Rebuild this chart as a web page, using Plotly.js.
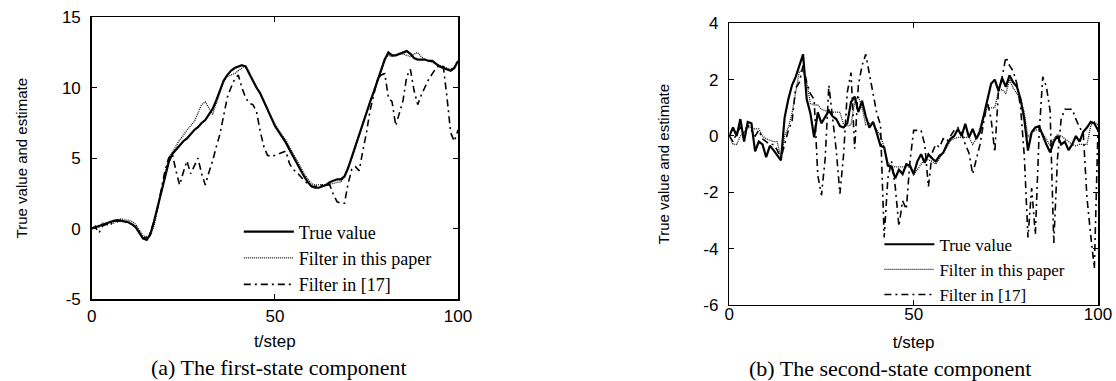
<!DOCTYPE html>
<html>
<head>
<meta charset="utf-8">
<script src="https://cdn.plot.ly/plotly-3.0.1.min.js"></script>
<style>html,body{margin:0;padding:0;background:#fff;}#chart{width:1116px;height:381px;}</style>
</head>
<body>
<div id="chart"></div>
<script>
// time steps
const steps = Array.from({length: 101}, (_, i) => i);

// (a) first-state component
const trueA = [0.0,0.1,0.2,0.3,0.35,0.45,0.55,0.6,0.55,0.5,0.45,0.3,0.1,-0.3,-0.7,-0.8,-0.4,0.5,1.6,2.7,3.8,4.7,5.3,5.6,5.9,6.2,6.4,6.7,7.0,7.2,7.5,7.7,8.1,8.5,9.1,9.8,10.5,10.9,11.2,11.4,11.5,11.6,11.5,11.0,10.4,10.0,9.6,9.0,8.4,7.8,7.3,6.9,6.5,6.1,5.6,5.1,4.6,4.1,3.7,3.3,3.0,2.9,2.9,3.0,3.1,3.3,3.4,3.5,3.5,3.7,4.3,5.1,5.9,6.7,7.5,8.2,9.0,9.7,10.5,11.2,12.0,12.5,12.3,12.3,12.4,12.5,12.6,12.4,12.1,12.0,12.0,12.0,11.9,11.9,11.7,11.5,11.4,11.3,11.2,11.4,11.9];
const filterA = [0.0,0.2,0.1,0.4,0.3,0.5,0.4,0.6,0.7,0.6,0.6,0.5,0.3,-0.1,-0.5,-0.6,-0.5,0.2,1.3,2.6,3.9,5.0,5.4,5.9,6.3,6.6,7.0,7.3,7.6,8.2,8.8,9.0,8.5,8.1,8.9,9.6,10.4,10.8,10.9,11.0,11.2,11.4,11.6,11.1,10.6,10.1,9.6,9.1,8.5,7.9,7.4,7.0,6.6,6.3,5.8,5.3,4.8,4.3,3.9,3.5,3.2,3.1,3.1,3.1,3.1,3.2,3.2,3.3,3.3,3.7,4.3,5.0,5.8,6.6,7.5,8.3,9.0,9.8,10.6,11.3,12.1,12.3,12.2,12.3,12.4,12.4,12.3,12.2,12.4,12.5,12.2,12.0,11.9,11.8,11.7,11.6,11.5,11.4,11.3,11.5,11.9];
const ref17A = [0.0,0.1,-0.3,0.2,0.3,0.2,0.6,0.5,0.6,0.5,0.4,0.3,0.1,-0.3,-0.7,-0.6,-0.3,0.5,1.5,2.8,4.1,5.0,5.3,4.1,3.1,4.0,4.8,3.9,4.5,5.0,3.9,3.1,4.0,4.8,5.8,6.7,8.0,9.3,10.0,10.6,10.9,10.0,9.3,8.9,8.8,8.3,6.9,5.8,5.2,5.1,5.2,5.3,5.4,5.5,4.6,4.2,4.0,3.7,3.4,3.2,3.0,3.0,3.0,3.1,3.1,3.1,2.4,1.9,1.8,1.8,3.2,4.2,4.4,4.1,5.5,6.8,8.4,9.5,10.6,10.9,11.0,9.3,9.0,7.3,8.2,9.1,10.8,11.3,9.8,8.8,9.5,10.1,10.6,11.0,11.4,11.6,11.5,9.3,6.8,6.2,7.0];

// (b) second-state component
const trueB = [0.0,0.3,0.0,0.6,-0.2,0.5,0.45,-0.55,-0.2,-0.3,-0.75,-0.35,-0.5,-0.7,-0.87,0.65,1.3,1.8,2.1,2.5,2.9,1.3,0.8,-0.05,0.84,0.45,0.7,0.9,0.7,0.6,0.35,0.3,0.45,1.2,1.4,0.85,1.25,0.7,0.3,0.5,0.1,-0.35,-0.4,-1.05,-1.1,-1.5,-1.2,-1.35,-1.0,-1.05,-1.35,-0.9,-0.65,-0.95,-0.65,-0.8,-0.9,-0.7,-0.6,-0.3,-0.1,0.0,0.25,0.0,0.43,-0.05,0.25,-0.1,0.15,0.72,1.2,1.85,2.0,1.6,2.05,1.75,2.15,1.9,1.75,1.3,0.6,-0.52,0.13,0.3,0.35,0.0,-0.3,-0.58,-0.2,0.0,-0.3,-0.2,-0.5,-0.3,0.0,-0.2,0.15,0.3,0.5,0.45,0.2];
const filterB = [0.0,-0.3,-0.3,0.0,0.15,0.3,0.3,0.25,0.25,0.0,-0.1,-0.15,-0.2,-0.2,-0.8,0.0,0.3,0.8,1.6,2.3,2.3,1.9,1.15,1.1,1.1,0.95,0.9,0.85,0.85,0.85,0.84,0.4,0.35,0.4,1.2,1.4,1.0,0.4,0.45,0.45,0.2,0.0,-0.4,-0.95,-1.05,-1.1,-1.1,-1.1,-1.1,-1.1,-1.4,-1.2,-1.0,-0.8,-0.85,-0.9,-1.0,-0.8,-0.6,-0.4,-0.15,-0.1,-0.05,-0.05,-0.05,-0.05,-0.3,-0.1,0.3,0.75,1.0,1.0,1.0,1.6,1.65,1.5,2.0,1.7,1.5,1.3,0.84,-0.05,0.13,0.2,0.25,0.1,-0.1,-0.35,-0.1,0.05,0.0,-0.1,-0.2,-0.3,-0.35,-0.3,-0.3,-0.3,0.35,0.5,0.4];
const ref17B = [0.0,-0.2,0.1,0.3,0.1,0.4,0.2,0.0,0.2,-0.1,-0.2,-0.3,-0.3,-0.5,-0.8,-0.3,0.2,0.5,1.7,1.9,2.5,1.9,1.5,1.3,-1.4,-2.1,-0.8,1.8,0.6,-0.5,-2.05,-0.65,1.55,2.25,-0.45,1.8,2.5,2.9,2.2,1.5,0.8,0.4,-3.6,-1.5,-0.9,-1.8,-3.2,-2.3,-2.6,-0.9,0.2,0.2,0.2,-0.3,-1.8,-0.6,-0.3,-0.4,-0.1,-0.2,0.0,0.2,0.3,0.1,-0.3,-0.6,-1.35,-0.8,-0.3,0.5,1.2,0.6,-0.58,1.6,2.1,2.8,2.5,2.3,1.85,1.0,-0.7,-3.6,-1.85,-3.5,0.0,2.1,1.75,0.9,-3.8,-0.8,0.6,0.95,0.95,0.95,0.6,0.3,0.1,-2.2,-3.5,-4.7,0.3];

const seriesNames = ['True value', 'Filter in this paper', 'Filter in [17]'];
const xTicks = [0, 50, 100];
const yTicksA = [-5, 0, 5, 10, 15];
const yTicksB = [-6, -4, -2, 0, 2, 4];

const lineStyles = [
  {color: '#000', width: 2.2, dash: 'solid'},
  {color: '#111', width: 1.3, dash: '1px,1px'},
  {color: '#000', width: 1.6, dash: '7px,4px,2px,4px'}
];

function mk(y, i, xa, ya, lg) {
  return {x: steps, y: y, type: 'scatter', mode: 'lines', name: seriesNames[i],
    xaxis: xa, yaxis: ya, legend: lg, line: lineStyles[i], hoverinfo: 'skip'};
}

const data = [
  mk(trueA, 0, 'x', 'y', 'legend'), mk(filterA, 1, 'x', 'y', 'legend'), mk(ref17A, 2, 'x', 'y', 'legend'),
  mk(trueB, 0, 'x2', 'y2', 'legend2'), mk(filterB, 1, 'x2', 'y2', 'legend2'), mk(ref17B, 2, 'x2', 'y2', 'legend2')
];

const sans = 'Liberation Sans, Arial, sans-serif';
const serif = 'Liberation Serif, Times New Roman, serif';

function xAxis(domain, anchor, labelOff, titleOff) {
  return {domain: domain, anchor: anchor, range: [0, 100], tickvals: xTicks, ticktext: xTicks.map(String),
    showline: true, mirror: 'ticks', linecolor: '#000', linewidth: 1.5, ticks: 'inside', ticklen: 5,
    tickcolor: '#000', showgrid: false, zeroline: false, ticklabelstandoff: labelOff,
    tickfont: {family: sans, size: 17, color: '#000'},
    title: {text: 't/step', font: {family: sans, size: 17, color: '#000'}, standoff: titleOff}};
}
function yAxis(domain, anchor, range, ticks) {
  return {domain: domain, anchor: anchor, range: range, tickvals: ticks, ticktext: ticks.map(String),
    showline: true, mirror: 'ticks', linecolor: '#000', linewidth: 1.5, ticks: 'inside', ticklen: 5,
    tickcolor: '#000', showgrid: false, zeroline: false, ticklabelstandoff: 6,
    tickfont: {family: sans, size: 17, color: '#000'},
    title: {text: 'True value and estimate', font: {family: sans, size: 15, color: '#000'}, standoff: 30}};
}

const layout = {
  width: 1116, height: 381, margin: {l: 0, r: 0, t: 0, b: 0},
  paper_bgcolor: '#fff', plot_bgcolor: '#fff', showlegend: true,
  xaxis: xAxis([0.0822, 0.4104], 'y', 1, 10),
  yaxis: yAxis([0.2152, 0.9546], 'x', [-5, 15], yTicksA),
  xaxis2: xAxis([0.6535, 0.9839], 'y2', -7, 13),
  yaxis2: yAxis([0.1995, 0.9388], 'x2', [-6, 4], yTicksB),
  legend: {x: 0.214, y: 0.440, xanchor: 'left', yanchor: 'top', bgcolor: 'rgba(0,0,0,0)',
    borderwidth: 0, itemwidth: 50, font: {family: serif, size: 18, color: '#000'}, tracegroupgap: 0},
  legend2: {x: 0.788, y: 0.405, xanchor: 'left', yanchor: 'top', bgcolor: 'rgba(0,0,0,0)',
    borderwidth: 0, itemwidth: 50, font: {family: serif, size: 17, color: '#000'}, tracegroupgap: 0},
  annotations: [
    {text: '(a) The first-state component', xref: 'paper', yref: 'paper', x: 279 / 1116, y: 1 - 367 / 381,
      xanchor: 'center', yanchor: 'middle', showarrow: false, font: {family: serif, size: 22, color: '#000'}},
    {text: '(b) The second-state component', xref: 'paper', yref: 'paper', x: 890 / 1116, y: 1 - 368 / 381,
      xanchor: 'center', yanchor: 'middle', showarrow: false, font: {family: serif, size: 22, color: '#000'}}
  ]
};

Plotly.newPlot('chart', data, layout, {displayModeBar: false, staticPlot: true});
</script>
</body>
</html>
